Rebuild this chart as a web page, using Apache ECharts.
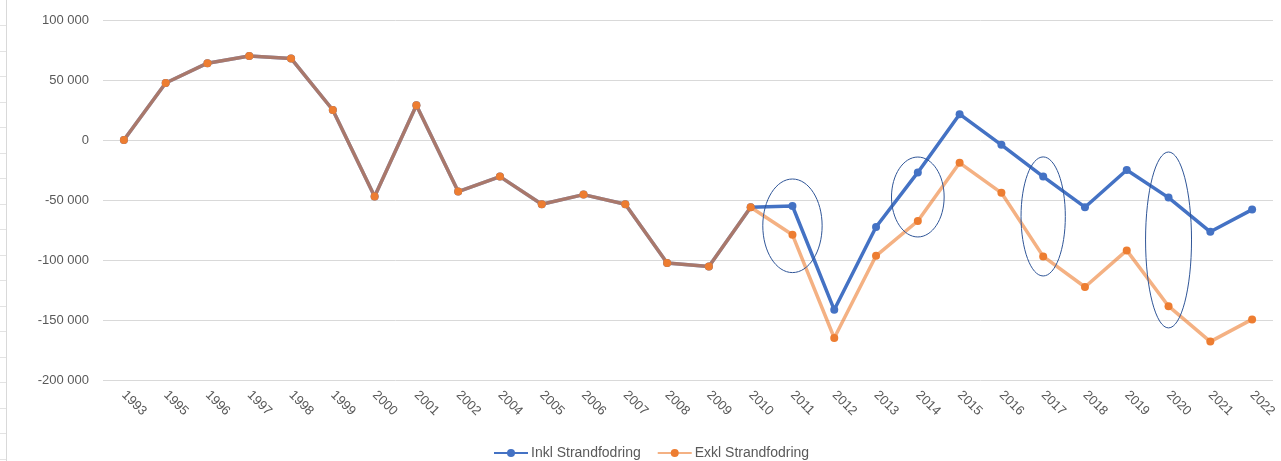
<!DOCTYPE html>
<html>
<head>
<meta charset="utf-8">
<script src="https://cdn.jsdelivr.net/npm/echarts@6/dist/echarts.min.js"></script>
<style>
html,body{margin:0;padding:0;background:#fff;}
#c{width:1281px;height:461px;}
</style>
</head>
<body>
<div id="c"></div>
<script>
const years = ['1993','1995','1996','1997','1998','1999','2000','2001','2002','2004','2005','2006','2007','2008','2009','2010','2011','2012','2013','2014','2015','2016','2017','2018','2019','2020','2021','2022'];
const inklStrandfodring = [0,47500,64000,70000,68000,25000,-47000,29000,-43000,-30500,-53500,-45500,-53500,-102500,-105500,-56000,-55000,-141500,-72500,-27000,21500,-4000,-30500,-56000,-25000,-48000,-76500,-58000];
const exklStrandfodring = [0,47500,64000,70000,68000,25000,-47000,29000,-43000,-30500,-53500,-45500,-53500,-102500,-105500,-56000,-79000,-165000,-96500,-67500,-19000,-44000,-97000,-122500,-92000,-138500,-168000,-149500];
// annotation ellipses: [category, centre value, half-height (value units), half-width (category bands)]
const ellipses = [
  ['2011', -71500, 39000, 0.71],
  ['2014', -47500, 33300, 0.63],
  ['2017', -63700, 49600, 0.53],
  ['2020', -83300, 73300, 0.55]
];

const chart = echarts.init(document.getElementById('c'));
const fontFam = '"Liberation Sans", "DejaVu Sans", sans-serif';

// faint ruler-like line at the left edge
const ruler = [{type: 'line', shape: {x1: 6.5, y1: 0, x2: 6.5, y2: 461}, style: {stroke: '#d9d9d9', lineWidth: 1}}];
for (let i = 0; i < 18; i++) {
  const y = Math.round(25 + i * 25.5) + 0.5;
  ruler.push({type: 'line', shape: {x1: 0, y1: y, x2: 6, y2: y}, style: {stroke: '#e3e3e3', lineWidth: 1}});
}

chart.setOption({
  animation: false,
  grid: {left: 103, right: 8, top: 20, bottom: 81, containLabel: false},
  legend: {
    bottom: -4, left: 488, itemGap: 16, itemWidth: 34, itemHeight: 10,
    textStyle: {color: '#595959', fontSize: 14, fontFamily: fontFam, padding: [0, 0, 0, -2]},
    data: ['Inkl Strandfodring', 'Exkl Strandfodring']
  },
  xAxis: {
    type: 'category', data: years, boundaryGap: true,
    axisLine: {show: false}, axisTick: {show: false},
    axisLabel: {rotate: -45, color: '#595959', fontSize: 13, fontFamily: fontFam, margin: 13, interval: 0}
  },
  yAxis: {
    type: 'value', min: -200000, max: 100000, interval: 50000,
    axisLine: {show: false}, axisTick: {show: false},
    splitLine: {lineStyle: {color: '#d9d9d9', width: 1}},
    axisLabel: {color: '#595959', fontSize: 13, fontFamily: fontFam, margin: 14,
      formatter: v => { const s = Math.abs(v).toString().replace(/\B(?=(\d{3})+(?!\d))/g, ' '); return (v < 0 ? '-' : '') + s; }}
  },
  series: [
    {
      name: 'Inkl Strandfodring', type: 'line', data: inklStrandfodring,
      symbol: 'circle', symbolSize: 8, z: 2,
      lineStyle: {color: '#4472c4', width: 3.5},
      itemStyle: {color: '#4472c4'}
    },
    {
      name: 'Exkl Strandfodring', type: 'line', data: exklStrandfodring,
      symbol: 'circle', symbolSize: 8, z: 3,
      lineStyle: {color: '#ed7d31', width: 3.5, opacity: 0.6},
      itemStyle: {color: '#ed7d31'}
    },
    {
      type: 'custom', z: 4, silent: true,
      data: ellipses,
      renderItem: function (params, api) {
        const c = api.coord([api.value(0), api.value(1)]);
        const top = api.coord([api.value(0), api.value(1) + api.value(2)]);
        const band = api.size([1, 0])[0];
        const ry = Math.abs(c[1] - top[1]);
        const rx = band * api.value(3);
        return {
          type: 'ellipse',
          shape: {cx: c[0], cy: c[1], rx: rx, ry: ry},
          style: {fill: null, stroke: '#2f5597', lineWidth: 1}
        };
      },
      encode: {x: 0, y: 1}
    }
  ],
  graphic: ruler
});
</script>
</body>
</html>
